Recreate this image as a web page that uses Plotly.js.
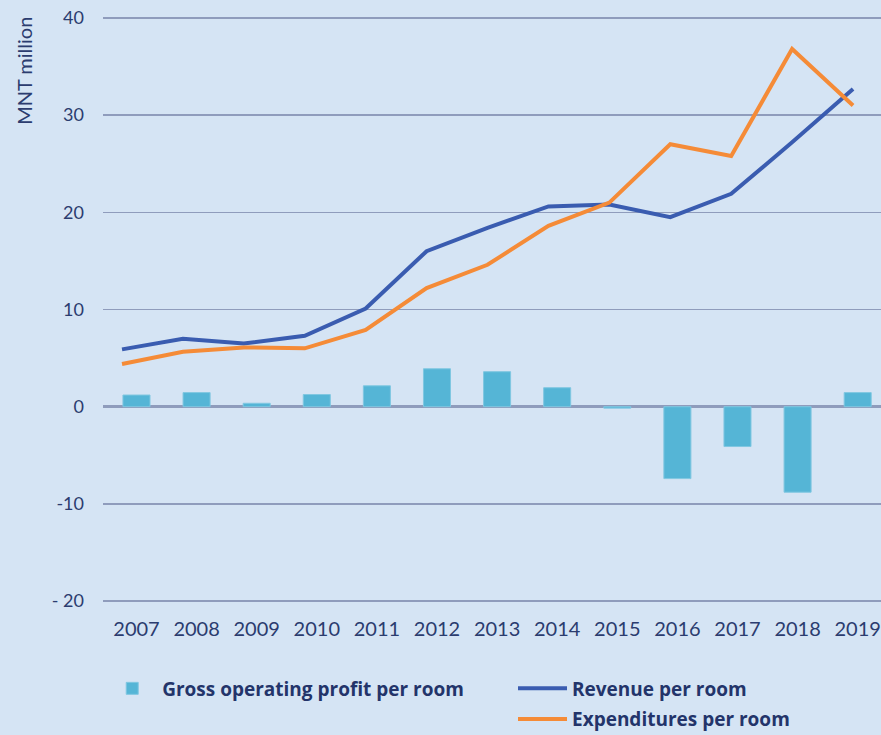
<!DOCTYPE html>
<html>
<head>
<meta charset="utf-8">
<script src="https://cdn.plot.ly/plotly-3.0.1.min.js"></script>
<style>html,body{margin:0;padding:0;background:#d5e4f4;}#chart{width:881px;height:735px;}</style>
</head>
<body>
<div id="chart"></div>
<script>
var years = ["2007","2008","2009","2010","2011","2012","2013","2014","2015","2016","2017","2018","2019"];
var grossProfit = [1.2, 1.45, 0.35, 1.25, 2.15, 3.9, 3.6, 1.95, -0.15, -7.4, -4.1, -8.8, 1.45];
var revenue = [5.9, 7.0, 6.5, 7.3, 10.1, 16.0, 18.4, 20.6, 20.8, 19.5, 21.9, 27.2, 32.7];
var expenditures = [4.4, 5.65, 6.1, 6.0, 7.9, 12.2, 14.6, 18.6, 21.0, 27.0, 25.8, 36.8, 31.0];
var yTickVals = [-20, -10, 0, 10, 20, 30, 40];
var yTickText = ["- 20", "-10", "0", "10", "20", "30", "40"];

var navy = "#2b3c6f";
var legendFont = {size:19, color:"#23346a", family:"'Open Sans', sans-serif", weight:"bold"};
var traces = [
  {type:"bar", name:"Gross operating profit per room", x:years, y:grossProfit, width:0.45,
   marker:{color:"#55b5d6", line:{color:"#80c7e1", width:1}}, legend:"legend", xaxis:"x", yaxis:"y"},
  {type:"scatter", mode:"lines", name:"Revenue per room", x:years, y:revenue, legendgroup:"rev",
   line:{color:"#3a5cb0", width:4}, legend:"legend2", xaxis:"x2", yaxis:"y"},
  {type:"scatter", mode:"lines", name:"Expenditures per room", x:years, y:expenditures, legendgroup:"exp",
   line:{color:"#f58b37", width:4}, legend:"legend2", xaxis:"x2", yaxis:"y"}
];

var layout = {
  width:881, height:735,
  paper_bgcolor:"#d5e4f4", plot_bgcolor:"#d5e4f4",
  margin:{l:103, r:0, t:15.5, b:131.6, pad:0, autoexpand:false},
  font:{family:"Lato, 'Open Sans', sans-serif", color:navy},
  xaxis:{type:"category", range:[-0.557, 12.388], showgrid:false, showline:false, zeroline:false,
         ticks:"", tickfont:{size:20, color:navy, family:"Lato"}, ticklabelstandoff:12},
  xaxis2:{type:"category", overlaying:"x", range:[-0.312, 12.459], visible:false},
  yaxis:{range:[-20.2, 40.2], tickvals:yTickVals, ticktext:yTickText, showgrid:true,
         gridcolor:"#8f9cbc", gridwidth:1.5, zeroline:true, zerolinecolor:"#8f9cbc", zerolinewidth:2.5,
         showline:false, ticks:"", tickfont:{size:18, color:navy, family:"Lato"}, ticklabelstandoff:18},
  showlegend:true,
  legend:{orientation:"v", x:-0.001, xanchor:"left", y:-0.1133, yanchor:"top", bgcolor:"rgba(0,0,0,0)",
          font:legendFont, itemwidth:50, tracegroupgap:0},
  legend2:{orientation:"v", x:0.527, xanchor:"left", y:-0.1133, yanchor:"top", bgcolor:"rgba(0,0,0,0)",
          font:legendFont, itemwidth:49, tracegroupgap:3},
  annotations:[
    {text:"MNT million", xref:"paper", yref:"y", x:-0.101, y:34.6, xanchor:"center", yanchor:"middle",
     textangle:-90, showarrow:false, font:{size:20, color:navy, family:"Lato"}}
  ]
};

Plotly.newPlot("chart", traces, layout, {displayModeBar:false, staticPlot:true});
</script>
</body>
</html>
